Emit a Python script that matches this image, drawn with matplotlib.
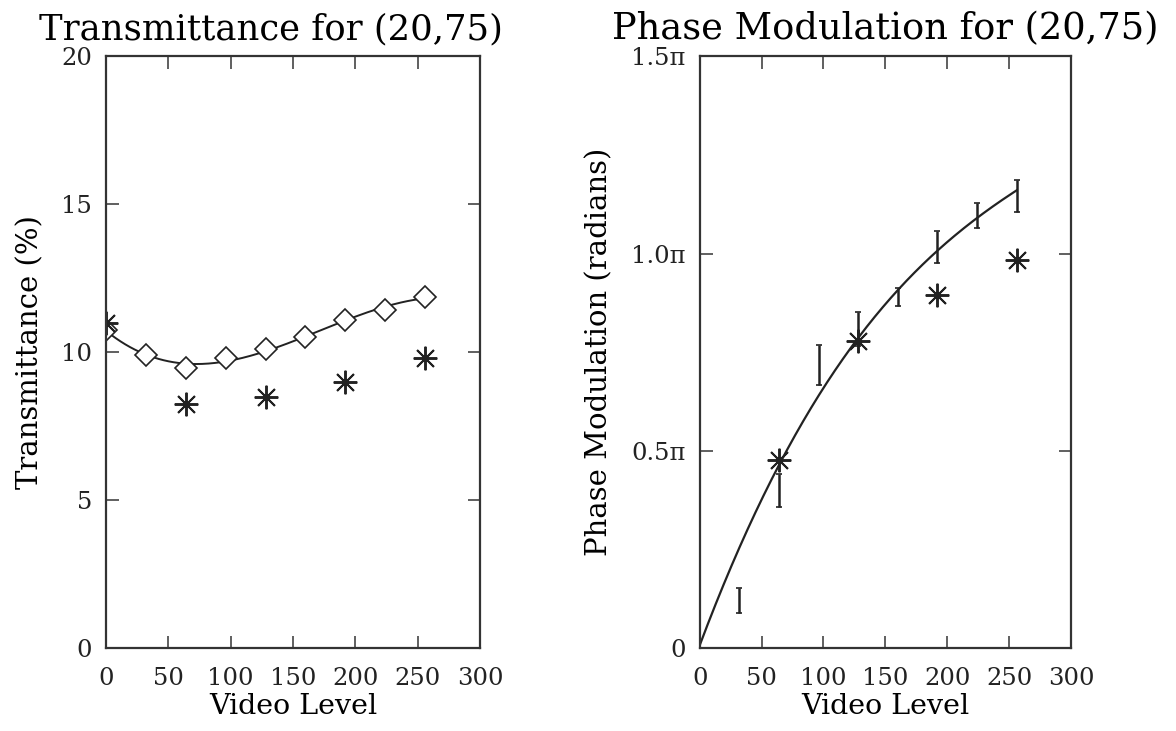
import numpy as np
import matplotlib
matplotlib.use("Agg")
import matplotlib.pyplot as plt

# video levels where the modulator was measured
video = [0, 32, 64, 96, 128, 160, 192, 224, 256]
trans_model = [10.75, 9.92, 9.47, 9.79, 10.09, 10.50, 11.10, 11.44, 11.87]

star_video = [0, 64, 128, 192, 256]
trans_meas = [11.0, 8.24, 8.47, 9.0, 9.79]

# phase (in units of pi)
bar_video = [32, 64, 96, 128, 160, 192, 224, 256]
phase_low = [0.088, 0.357, 0.668, 0.765, 0.866, 0.976, 1.064, 1.106]
phase_high = [0.151, 0.441, 0.769, 0.852, 0.912, 1.056, 1.127, 1.186]

phase_star_video = [64, 128, 192, 256]
phase_meas = [0.476, 0.778, 0.896, 0.984]

# fitted phase curve read at the video levels
curve_video = [0, 32, 64, 96, 128, 160, 192, 224, 256]
phase_curve = [0.0, 0.265, 0.47, 0.63, 0.78, 0.905, 1.013, 1.096, 1.155]

plt.rcParams["font.family"] = "DejaVu Serif"

fig = plt.figure(figsize=(11.76, 7.31), dpi=100)
ax1 = fig.add_axes([0.0901, 0.1135, 0.318, 0.8095])
ax2 = fig.add_axes([0.595, 0.1135, 0.3157, 0.8095])

ink = "#222222"
star = (8, 2, 0)

# left panel
xs = np.linspace(0, 256, 200)
coef = np.polyfit(video, trans_model, 3)
ax1.plot(xs, np.polyval(coef, xs), color=ink, lw=1.4)
ax1.plot(video, trans_model, ls="none", marker="D", ms=11, mfc="white",
         mec=ink, mew=1.2)
ax1.plot(star_video, trans_meas, ls="none", marker=star, ms=17,
         color=ink, mew=1.4)
ax1.set_xlim(0, 300)
ax1.set_ylim(0, 20)
ax1.set_yticks([0, 5, 10, 15, 20])
ax1.set_title("Transmittance for (20,75)", fontsize=25.5, pad=12, x=0.44)
ax1.set_ylabel("Transmittance (%)", fontsize=21, labelpad=12)

# right panel
coef2 = np.polyfit(curve_video, phase_curve, 3)
ax2.plot(xs, np.polyval(coef2, xs) * np.pi, color=ink, lw=1.6)
mid = (np.array(phase_low) + np.array(phase_high)) / 2 * np.pi
err = (np.array(phase_high) - np.array(phase_low)) / 2 * np.pi
ax2.errorbar(bar_video, mid, yerr=err, ls="none", ecolor=ink,
             elinewidth=1.8, capsize=2, capthick=1.2)
ax2.plot(phase_star_video, np.array(phase_meas) * np.pi, ls="none",
         marker=star, ms=17, color=ink, mew=1.4)
ax2.set_xlim(0, 300)
ax2.set_ylim(0, 1.5 * np.pi)
ax2.set_yticks([0, 0.5 * np.pi, np.pi, 1.5 * np.pi])
ax2.set_yticklabels(["0", "0.5\u03c0", "1.0\u03c0", "1.5\u03c0"])
ax2.set_title("Phase Modulation for (20,75)", fontsize=26.5, pad=12)
ax2.set_ylabel("Phase Modulation (radians)", fontsize=21, labelpad=13)

for ax in (ax1, ax2):
    ax.set_xticks([0, 50, 100, 150, 200, 250, 300])
    ax.set_xlabel("Video Level", fontsize=20.5, labelpad=2)
    ax.tick_params(direction="in", top=True, right=True, length=9,
                   width=1.2, labelsize=17.5, color="#444444", labelcolor=ink)
    ax.tick_params(axis="x", pad=14)
    ax.tick_params(axis="y", pad=10)
    for s in ax.spines.values():
        s.set_linewidth(1.6)
        s.set_color("#333333")

fig.savefig("out.png", dpi=100)
